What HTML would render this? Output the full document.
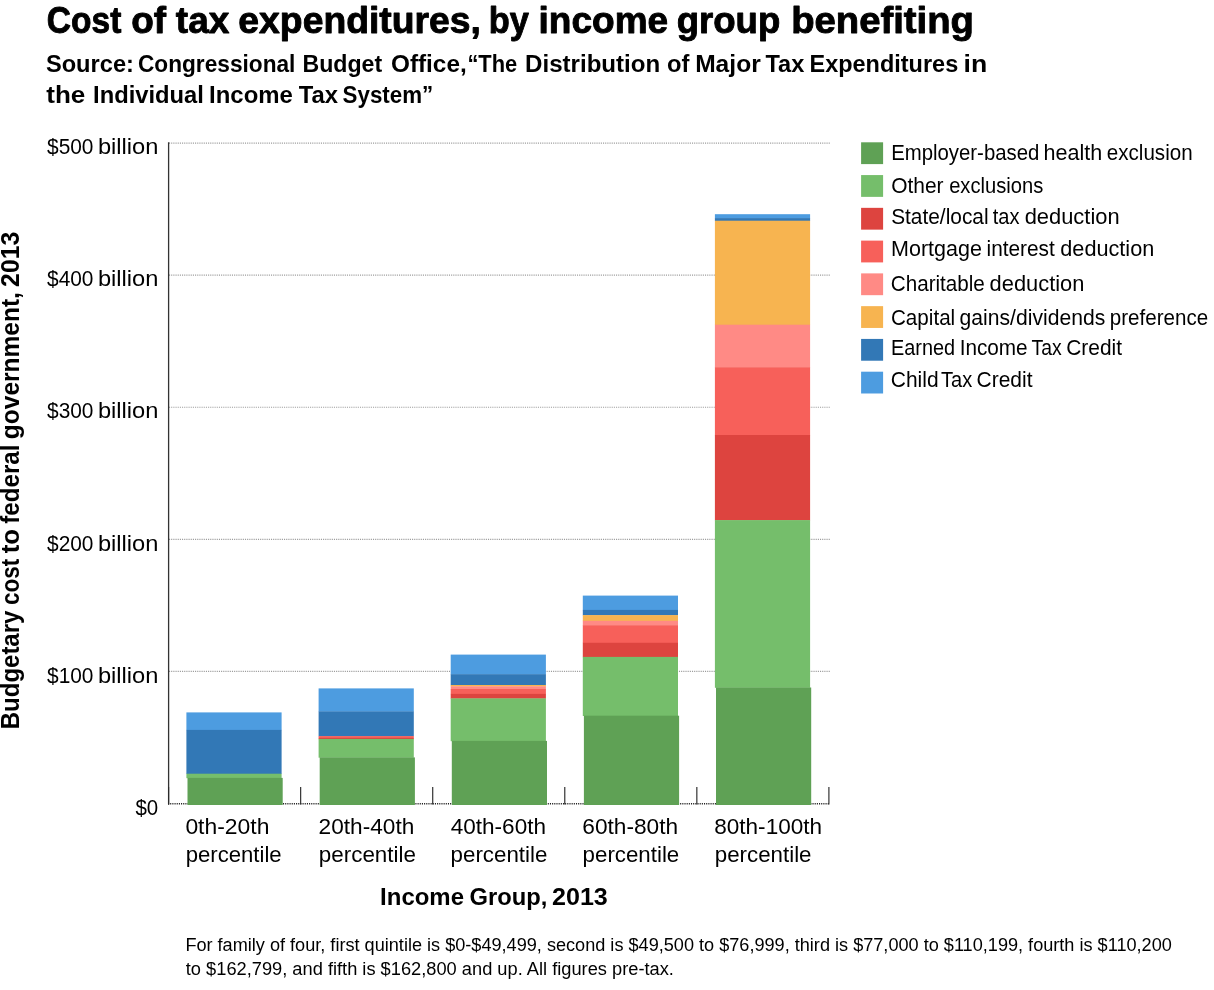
<!DOCTYPE html>
<html lang="en"><head><meta charset="utf-8"><title>Cost of tax expenditures, by income group benefiting</title>
<style>html,body{margin:0;padding:0;background:#fff}body{width:1214px;height:990px;overflow:hidden}svg{display:block}text{font-family:"Liberation Sans",Arial,sans-serif;fill:#000}.b{font-weight:bold}</style></head><body>
<svg width="1214" height="990" viewBox="0 0 1214 990">
<rect width="1214" height="990" fill="#fff"/>
<g stroke="#9c9c9c" stroke-width="1.2" stroke-dasharray="1.1 1.07" fill="none">
<line x1="169" y1="143.10" x2="830" y2="143.10"/>
<line x1="169" y1="275.17" x2="830" y2="275.17"/>
<line x1="169" y1="407.24" x2="830" y2="407.24"/>
<line x1="169" y1="539.31" x2="830" y2="539.31"/>
<line x1="169" y1="671.38" x2="830" y2="671.38"/>
</g>
<line x1="168" y1="803.7" x2="829.3" y2="803.7" stroke="#222" stroke-width="1.5" stroke-dasharray="1.1 1.07"/>
<line x1="168.6" y1="142.2" x2="168.6" y2="804.4" stroke="#333" stroke-width="1.3"/>
<line x1="168.60" y1="786.9" x2="168.60" y2="804.4" stroke="#2a2a2a" stroke-width="1.15"/>
<line x1="300.66" y1="786.9" x2="300.66" y2="804.4" stroke="#2a2a2a" stroke-width="1.15"/>
<line x1="432.72" y1="786.9" x2="432.72" y2="804.4" stroke="#2a2a2a" stroke-width="1.15"/>
<line x1="564.78" y1="786.9" x2="564.78" y2="804.4" stroke="#2a2a2a" stroke-width="1.15"/>
<line x1="696.84" y1="786.9" x2="696.84" y2="804.4" stroke="#2a2a2a" stroke-width="1.15"/>
<line x1="828.90" y1="786.9" x2="828.90" y2="804.4" stroke="#2a2a2a" stroke-width="1.15"/>
<rect x="186.40" y="712.40" width="95.2" height="17.80" fill="#4d9ce0"/>
<rect x="186.40" y="729.90" width="95.2" height="44.10" fill="#3278b6"/>
<rect x="186.40" y="773.70" width="95.2" height="4.50" fill="#75be6b"/>
<rect x="187.50" y="777.90" width="95.2" height="27.10" fill="#5fa155"/>
<rect x="318.60" y="688.40" width="95.2" height="23.30" fill="#4d9ce0"/>
<rect x="318.60" y="711.40" width="95.2" height="25.00" fill="#3278b6"/>
<rect x="318.60" y="736.10" width="95.2" height="2.10" fill="#f7605a"/>
<rect x="318.60" y="737.90" width="95.2" height="1.30" fill="#dd443f"/>
<rect x="318.60" y="738.90" width="95.2" height="18.80" fill="#75be6b"/>
<rect x="319.70" y="757.40" width="95.2" height="47.60" fill="#5fa155"/>
<rect x="450.70" y="654.60" width="95.2" height="19.90" fill="#4d9ce0"/>
<rect x="450.70" y="674.20" width="95.2" height="11.10" fill="#3278b6"/>
<rect x="450.70" y="685.00" width="95.2" height="1.60" fill="#f7b450"/>
<rect x="450.70" y="686.30" width="95.2" height="3.00" fill="#ff8a85"/>
<rect x="450.70" y="689.00" width="95.2" height="5.20" fill="#f7605a"/>
<rect x="450.70" y="693.90" width="95.2" height="4.80" fill="#dd443f"/>
<rect x="450.70" y="698.40" width="95.2" height="42.80" fill="#75be6b"/>
<rect x="451.80" y="740.90" width="95.2" height="64.10" fill="#5fa155"/>
<rect x="582.80" y="595.60" width="95.2" height="14.60" fill="#4d9ce0"/>
<rect x="582.80" y="609.90" width="95.2" height="5.50" fill="#3278b6"/>
<rect x="582.80" y="615.10" width="95.2" height="6.00" fill="#f7b450"/>
<rect x="582.80" y="620.80" width="95.2" height="4.70" fill="#ff8a85"/>
<rect x="582.80" y="625.20" width="95.2" height="17.90" fill="#f7605a"/>
<rect x="582.80" y="642.80" width="95.2" height="14.40" fill="#dd443f"/>
<rect x="582.80" y="656.90" width="95.2" height="59.10" fill="#75be6b"/>
<rect x="583.90" y="715.70" width="95.2" height="89.30" fill="#5fa155"/>
<rect x="714.90" y="214.20" width="95.2" height="4.20" fill="#4d9ce0"/>
<rect x="714.90" y="218.10" width="95.2" height="2.90" fill="#3278b6"/>
<rect x="714.90" y="220.70" width="95.2" height="104.30" fill="#f7b450"/>
<rect x="714.90" y="324.70" width="95.2" height="42.80" fill="#ff8a85"/>
<rect x="714.90" y="367.20" width="95.2" height="68.10" fill="#f7605a"/>
<rect x="714.90" y="435.00" width="95.2" height="85.40" fill="#dd443f"/>
<rect x="714.90" y="520.10" width="95.2" height="167.70" fill="#75be6b"/>
<rect x="716.00" y="687.50" width="95.2" height="117.50" fill="#5fa155"/>
<rect x="861.1" y="142.30" width="22" height="21.8" fill="#5fa155"/>
<rect x="861.1" y="175.07" width="22" height="21.8" fill="#75be6b"/>
<rect x="861.1" y="207.84" width="22" height="21.8" fill="#dd443f"/>
<rect x="861.1" y="240.61" width="22" height="21.8" fill="#f7605a"/>
<rect x="861.1" y="273.38" width="22" height="21.8" fill="#ff8a85"/>
<rect x="861.1" y="306.15" width="22" height="21.8" fill="#f7b450"/>
<rect x="861.1" y="338.92" width="22" height="21.8" fill="#3278b6"/>
<rect x="861.1" y="371.69" width="22" height="21.8" fill="#4d9ce0"/>
<text y="33.00" font-size="37.2" class="b" stroke="#000" stroke-width="0.9" stroke-linejoin="round"><tspan x="46.86" textLength="74.43" lengthAdjust="spacingAndGlyphs">Cost</tspan> <tspan x="131.23" textLength="34.82" lengthAdjust="spacingAndGlyphs">of</tspan> <tspan x="175.82" textLength="53.50" lengthAdjust="spacingAndGlyphs">tax</tspan> <tspan x="238.38" textLength="242.57" lengthAdjust="spacingAndGlyphs">expenditures,</tspan> <tspan x="488.87" textLength="40.15" lengthAdjust="spacingAndGlyphs">by</tspan> <tspan x="538.56" textLength="129.63" lengthAdjust="spacingAndGlyphs">income</tspan> <tspan x="676.67" textLength="103.64" lengthAdjust="spacingAndGlyphs">group</tspan> <tspan x="791.18" textLength="182.80" lengthAdjust="spacingAndGlyphs">benefiting</tspan></text>
<text y="72.00" font-size="24.7" class="b"><tspan x="45.91" textLength="88.01" lengthAdjust="spacingAndGlyphs">Source:</tspan> <tspan x="137.95" textLength="157.46" lengthAdjust="spacingAndGlyphs">Congressional</tspan> <tspan x="302.46" textLength="79.73" lengthAdjust="spacingAndGlyphs">Budget</tspan> <tspan x="390.98" textLength="75.74" lengthAdjust="spacingAndGlyphs">Office,</tspan> <tspan x="467.41" textLength="49.82" lengthAdjust="spacingAndGlyphs">“The</tspan> <tspan x="525.10" textLength="135.10" lengthAdjust="spacingAndGlyphs">Distribution</tspan> <tspan x="667.11" textLength="22.43" lengthAdjust="spacingAndGlyphs">of</tspan> <tspan x="695.15" textLength="65.58" lengthAdjust="spacingAndGlyphs">Major</tspan> <tspan x="765.48" textLength="38.90" lengthAdjust="spacingAndGlyphs">Tax</tspan> <tspan x="809.51" textLength="148.69" lengthAdjust="spacingAndGlyphs">Expenditures</tspan> <tspan x="963.50" textLength="23.67" lengthAdjust="spacingAndGlyphs">in</tspan></text>
<text y="103.00" font-size="24.7" class="b"><tspan x="46.22" textLength="39.09" lengthAdjust="spacingAndGlyphs">the</tspan> <tspan x="93.09" textLength="110.82" lengthAdjust="spacingAndGlyphs">Individual</tspan> <tspan x="209.12" textLength="83.72" lengthAdjust="spacingAndGlyphs">Income</tspan> <tspan x="298.67" textLength="39.28" lengthAdjust="spacingAndGlyphs">Tax</tspan> <tspan x="342.60" textLength="90.63" lengthAdjust="spacingAndGlyphs">System”</tspan></text>
<text y="154.00" font-size="21.4"><tspan x="47.07" textLength="46.41" lengthAdjust="spacingAndGlyphs">$500</tspan> <tspan x="97.93" textLength="60.54" lengthAdjust="spacingAndGlyphs">billion</tspan></text>
<text y="286.00" font-size="21.4"><tspan x="47.07" textLength="46.41" lengthAdjust="spacingAndGlyphs">$400</tspan> <tspan x="97.93" textLength="60.54" lengthAdjust="spacingAndGlyphs">billion</tspan></text>
<text y="418.00" font-size="21.4"><tspan x="47.07" textLength="46.41" lengthAdjust="spacingAndGlyphs">$300</tspan> <tspan x="97.93" textLength="60.54" lengthAdjust="spacingAndGlyphs">billion</tspan></text>
<text y="551.00" font-size="21.4"><tspan x="47.07" textLength="46.41" lengthAdjust="spacingAndGlyphs">$200</tspan> <tspan x="97.93" textLength="60.54" lengthAdjust="spacingAndGlyphs">billion</tspan></text>
<text y="683.00" font-size="21.4"><tspan x="47.07" textLength="46.41" lengthAdjust="spacingAndGlyphs">$100</tspan> <tspan x="97.93" textLength="60.54" lengthAdjust="spacingAndGlyphs">billion</tspan></text>
<text x="135.48" y="815.00" font-size="21.4" textLength="22.74" lengthAdjust="spacingAndGlyphs">$0</text>
<text x="185.40" y="833.90" font-size="21.4" textLength="84.03" lengthAdjust="spacingAndGlyphs">0th-20th</text>
<text x="185.65" y="862.00" font-size="21.4" textLength="96.05" lengthAdjust="spacingAndGlyphs">percentile</text>
<text x="318.62" y="833.90" font-size="21.4" textLength="95.70" lengthAdjust="spacingAndGlyphs">20th-40th</text>
<text x="318.87" y="862.00" font-size="21.4" textLength="97.07" lengthAdjust="spacingAndGlyphs">percentile</text>
<text x="450.76" y="833.90" font-size="21.4" textLength="95.22" lengthAdjust="spacingAndGlyphs">40th-60th</text>
<text x="450.61" y="862.00" font-size="21.4" textLength="96.72" lengthAdjust="spacingAndGlyphs">percentile</text>
<text x="582.29" y="833.90" font-size="21.4" textLength="95.89" lengthAdjust="spacingAndGlyphs">60th-80th</text>
<text x="582.62" y="862.00" font-size="21.4" textLength="96.64" lengthAdjust="spacingAndGlyphs">percentile</text>
<text x="714.19" y="833.90" font-size="21.4" textLength="107.94" lengthAdjust="spacingAndGlyphs">80th-100th</text>
<text x="714.78" y="862.00" font-size="21.4" textLength="96.74" lengthAdjust="spacingAndGlyphs">percentile</text>
<text y="905.00" font-size="24.7" class="b"><tspan x="380.10" textLength="83.91" lengthAdjust="spacingAndGlyphs">Income</tspan> <tspan x="469.43" textLength="77.86" lengthAdjust="spacingAndGlyphs">Group,</tspan> <tspan x="551.98" textLength="55.85" lengthAdjust="spacingAndGlyphs">2013</tspan></text>
<text y="159.90" font-size="21.4"><tspan x="891.19" textLength="148.16" lengthAdjust="spacingAndGlyphs">Employer-based</tspan> <tspan x="1043.45" textLength="58.74" lengthAdjust="spacingAndGlyphs">health</tspan> <tspan x="1106.76" textLength="85.91" lengthAdjust="spacingAndGlyphs">exclusion</tspan></text>
<text y="193.40" font-size="21.4"><tspan x="891.19" textLength="52.33" lengthAdjust="spacingAndGlyphs">Other</tspan> <tspan x="949.16" textLength="94.16" lengthAdjust="spacingAndGlyphs">exclusions</tspan></text>
<text y="223.90" font-size="21.4"><tspan x="891.13" textLength="97.44" lengthAdjust="spacingAndGlyphs">State/local</tspan> <tspan x="992.68" textLength="26.76" lengthAdjust="spacingAndGlyphs">tax</tspan> <tspan x="1024.66" textLength="94.96" lengthAdjust="spacingAndGlyphs">deduction</tspan></text>
<text y="255.60" font-size="21.4"><tspan x="891.07" textLength="90.87" lengthAdjust="spacingAndGlyphs">Mortgage</tspan> <tspan x="986.53" textLength="68.32" lengthAdjust="spacingAndGlyphs">interest</tspan> <tspan x="1060.27" textLength="94.06" lengthAdjust="spacingAndGlyphs">deduction</tspan></text>
<text y="290.90" font-size="21.4"><tspan x="890.80" textLength="94.04" lengthAdjust="spacingAndGlyphs">Charitable</tspan> <tspan x="989.60" textLength="94.80" lengthAdjust="spacingAndGlyphs">deduction</tspan></text>
<text y="324.60" font-size="21.4"><tspan x="890.98" textLength="64.23" lengthAdjust="spacingAndGlyphs">Capital</tspan> <tspan x="959.62" textLength="145.65" lengthAdjust="spacingAndGlyphs">gains/dividends</tspan> <tspan x="1109.82" textLength="98.31" lengthAdjust="spacingAndGlyphs">preference</tspan></text>
<text y="355.00" font-size="21.4"><tspan x="891.06" textLength="64.13" lengthAdjust="spacingAndGlyphs">Earned</tspan> <tspan x="959.65" textLength="68.02" lengthAdjust="spacingAndGlyphs">Income</tspan> <tspan x="1031.54" textLength="30.16" lengthAdjust="spacingAndGlyphs">Tax</tspan> <tspan x="1066.27" textLength="55.73" lengthAdjust="spacingAndGlyphs">Credit</tspan></text>
<text y="387.00" font-size="21.4"><tspan x="890.76" textLength="47.80" lengthAdjust="spacingAndGlyphs">Child</tspan> <tspan x="941.04" textLength="31.22" lengthAdjust="spacingAndGlyphs">Tax</tspan> <tspan x="976.56" textLength="55.96" lengthAdjust="spacingAndGlyphs">Credit</tspan></text>
<text x="185.38" y="951.00" font-size="18.7" textLength="986.44" lengthAdjust="spacingAndGlyphs">For family of four, first quintile is $0-$49,499, second is $49,500 to $76,999, third is $77,000 to $110,199, fourth is $110,200</text>
<text x="185.79" y="974.80" font-size="18.7" textLength="488.10" lengthAdjust="spacingAndGlyphs">to $162,799, and fifth is $162,800 and up. All figures pre-tax.</text>
<text y="0.00" font-size="25.0" class="b" transform="translate(19.4,0) rotate(-90)"><tspan x="-729.20" textLength="118.55" lengthAdjust="spacingAndGlyphs">Budgetary</tspan> <tspan x="-605.04" textLength="46.34" lengthAdjust="spacingAndGlyphs">cost</tspan> <tspan x="-553.28" textLength="24.36" lengthAdjust="spacingAndGlyphs">to</tspan> <tspan x="-523.74" textLength="79.27" lengthAdjust="spacingAndGlyphs">federal</tspan> <tspan x="-439.16" textLength="147.02" lengthAdjust="spacingAndGlyphs">government,</tspan> <tspan x="-286.93" textLength="55.20" lengthAdjust="spacingAndGlyphs">2013</tspan></text>
</svg></body></html>
